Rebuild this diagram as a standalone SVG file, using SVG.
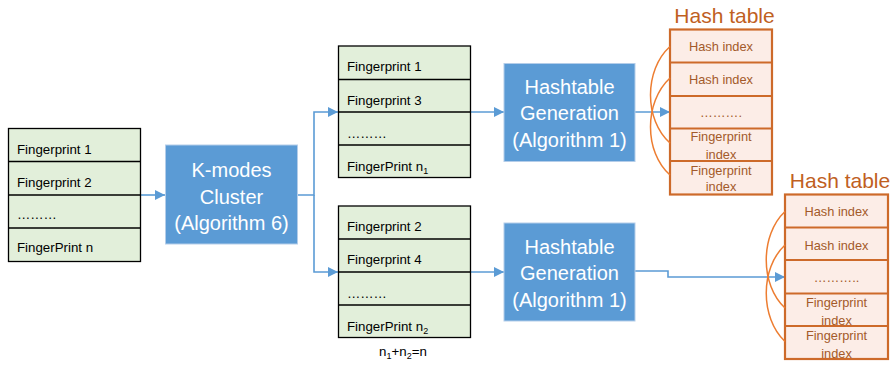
<svg xmlns="http://www.w3.org/2000/svg" width="893" height="367" viewBox="0 0 893 367">
<defs>
<style>
.tbl{fill:#E2EFDA;stroke:#000;stroke-width:1.3}
.sep{stroke:#000;stroke-width:1.3}
.t{font-family:"Liberation Sans",Arial,sans-serif;font-size:13.3px;fill:#000}
.box{fill:#5B9BD5;stroke:#B4CDE9;stroke-width:1}
.bt{font-family:"Liberation Sans",Arial,sans-serif;font-size:20px;fill:#fff;text-anchor:middle}
.ht{fill:#FCEDE7;stroke:#CD6A2A;stroke-width:2.2}
.hsep{stroke:#CD6A2A;stroke-width:2.2}
.hx{font-family:"Liberation Sans",Arial,sans-serif;font-size:12.8px;fill:#A35A2A;text-anchor:middle}
.title{font-family:"Liberation Sans",Arial,sans-serif;font-size:21px;fill:#C0601F;text-anchor:middle}
.arc{fill:none;stroke:#ED7D31;stroke-width:1.5}
.con{fill:none;stroke:#5B9BD5;stroke-width:1.6}
</style>
<marker id="ah" markerWidth="10" markerHeight="10" refX="10" refY="5" orient="auto" markerUnits="userSpaceOnUse">
<path d="M0,0 L10,5 L0,10 Z" fill="#5B9BD5"/>
</marker>
</defs>

<g id="connectors">
<path class="con" d="M141,195 H165" marker-end="url(#ah)"/>
<path class="con" d="M298,195 H314 V112 H338" marker-end="url(#ah)"/>
<path class="con" d="M314,195 V272 H338" marker-end="url(#ah)"/>
<path class="con" d="M471,112 H504" marker-end="url(#ah)"/>
<path class="con" d="M471,272 H504" marker-end="url(#ah)"/>
<path class="con" d="M635,112 H670" marker-end="url(#ah)"/>
<path class="con" d="M635,271 H668 V277 H785" marker-end="url(#ah)"/>
</g>

<g id="input-table">
<rect class="tbl" x="8.5" y="128.5" width="132" height="133"/>
<line class="sep" x1="8.5" y1="161.5" x2="140.5" y2="161.5"/>
<line class="sep" x1="8.5" y1="195" x2="140.5" y2="195"/>
<line class="sep" x1="8.5" y1="228" x2="140.5" y2="228"/>
<text class="t" x="17" y="154">Fingerprint 1</text>
<text class="t" x="17" y="187">Fingerprint 2</text>
<text class="t" x="17" y="219">………</text>
<text class="t" x="17" y="252">FingerPrint n</text>
</g>

<g id="kmodes">
<rect class="box" x="165.5" y="145" width="132" height="99"/>
<text class="bt" x="231.5" y="177">K-modes</text>
<text class="bt" x="231.5" y="203.5">Cluster</text>
<text class="bt" x="231.5" y="230">(Algorithm 6)</text>
</g>

<g id="cluster1">
<rect class="tbl" x="338.5" y="46" width="132" height="131.5"/>
<line class="sep" x1="338.5" y1="79.5" x2="470.5" y2="79.5"/>
<line class="sep" x1="338.5" y1="112" x2="470.5" y2="112"/>
<line class="sep" x1="338.5" y1="145" x2="470.5" y2="145"/>
<text class="t" x="347" y="71">Fingerprint 1</text>
<text class="t" x="347" y="104.5">Fingerprint 3</text>
<text class="t" x="347" y="138">………</text>
<text class="t" x="347" y="171">FingerPrint n<tspan font-size="9" dy="3">1</tspan></text>
</g>

<g id="cluster2">
<rect class="tbl" x="338.5" y="206" width="132" height="131.5"/>
<line class="sep" x1="338.5" y1="239" x2="470.5" y2="239"/>
<line class="sep" x1="338.5" y1="272" x2="470.5" y2="272"/>
<line class="sep" x1="338.5" y1="305" x2="470.5" y2="305"/>
<text class="t" x="347" y="231">Fingerprint 2</text>
<text class="t" x="347" y="264">Fingerprint 4</text>
<text class="t" x="347" y="298">………</text>
<text class="t" x="347" y="331">FingerPrint n<tspan font-size="9" dy="3">2</tspan></text>
</g>

<g id="sum-label">
<text class="t" x="403" y="356" text-anchor="middle">n<tspan font-size="9" dy="3">1</tspan><tspan dy="-3">+n</tspan><tspan font-size="9" dy="3">2</tspan><tspan dy="-3">=n</tspan></text>
</g>

<g id="hashgen1">
<rect class="box" x="504" y="63.5" width="131" height="98"/>
<text class="bt" x="569.5" y="94">Hashtable</text>
<text class="bt" x="569.5" y="120">Generation</text>
<text class="bt" x="569.5" y="147">(Algorithm 1)</text>
</g>

<g id="hashgen2">
<rect class="box" x="504" y="223" width="131" height="98"/>
<text class="bt" x="569.5" y="254">Hashtable</text>
<text class="bt" x="569.5" y="280">Generation</text>
<text class="bt" x="569.5" y="307">(Algorithm 1)</text>
</g>

<g id="hashtable1">
<text class="title" x="724.5" y="23">Hash table</text>
<rect class="ht" x="670" y="29.5" width="102" height="165"/>
<line class="hsep" x1="670" y1="62.5" x2="772" y2="62.5"/>
<line class="hsep" x1="670" y1="96" x2="772" y2="96"/>
<line class="hsep" x1="670" y1="128.5" x2="772" y2="128.5"/>
<line class="hsep" x1="670" y1="161" x2="772" y2="161"/>
<text class="hx" x="721" y="51">Hash index</text>
<text class="hx" x="721" y="84">Hash index</text>
<text class="hx" x="721" y="117">……….</text>
<text class="hx" x="721" y="141">Fingerprint</text>
<text class="hx" x="721" y="158.5">index</text>
<text class="hx" x="721" y="174.5">Fingerprint</text>
<text class="hx" x="721" y="191">index</text>
<path class="arc" d="M670,46.5 C644,70 644,120 670,143"/>
<path class="arc" d="M670,78 C644,102 644,152 670,175"/>
</g>

<g id="hashtable2">
<text class="title" x="840" y="188">Hash table</text>
<rect class="ht" x="785" y="194.5" width="103" height="164.5"/>
<line class="hsep" x1="785" y1="227.5" x2="888" y2="227.5"/>
<line class="hsep" x1="785" y1="260" x2="888" y2="260"/>
<line class="hsep" x1="785" y1="293.5" x2="888" y2="293.5"/>
<line class="hsep" x1="785" y1="326" x2="888" y2="326"/>
<text class="hx" x="836.5" y="216">Hash index</text>
<text class="hx" x="836.5" y="249.5">Hash index</text>
<text class="hx" x="836.5" y="282">………..</text>
<text class="hx" x="836.5" y="307">Fingerprint</text>
<text class="hx" x="836.5" y="325">index</text>
<text class="hx" x="836.5" y="339.5">Fingerprint</text>
<text class="hx" x="836.5" y="358">index</text>
<path class="arc" d="M785,211.5 C760,235 760,285 785,308"/>
<path class="arc" d="M785,245 C760,268 760,318 785,341.5"/>
</g>
</svg>
